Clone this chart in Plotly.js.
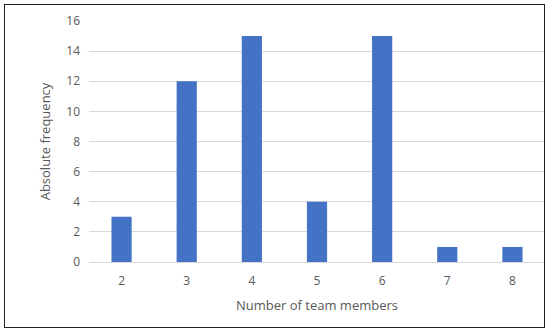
<!DOCTYPE html>
<html>
<head>
<meta charset="utf-8">
<script src="https://cdn.plot.ly/plotly-3.0.1.min.js"></script>
<style>
  body { margin: 0; background: #fff; }
  #chart { position: absolute; left: 0; top: 0; width: 550px; height: 333px; }
  #frame { position: absolute; left: 4px; top: 4px; width: 539px; height: 322px;
           border: 1.5px solid #222; pointer-events: none; }
</style>
</head>
<body>
<div id="chart"></div>
<div id="frame"></div>
<script>
// team size vs how many teams had it
var teamSizes = ["2", "3", "4", "5", "6", "7", "8"];
var frequency = [3, 12, 15, 4, 15, 1, 1];

var axisFont = { family: "Open Sans, Lato, sans-serif", size: 12, color: "#595959" };
var titleFont = { family: "Open Sans, Lato, sans-serif", size: 13, color: "#595959" };

var data = [{
    x: teamSizes,
    y: frequency,
    type: "bar",
    marker: { color: "#4472c4" },
    hoverinfo: "x+y"
}];

var layout = {
    width: 550,
    height: 333,
    margin: { l: 89, r: 5, t: 21, b: 71 },
    paper_bgcolor: "#fff",
    plot_bgcolor: "#fff",
    bargap: 0.69,
    showlegend: false,
    font: axisFont,
    xaxis: {
        type: "category",
        showgrid: false,
        showline: true,
        linecolor: "#d9d9d9",
        ticks: "",
        ticklabelstandoff: 8,
        tickfont: axisFont,
        title: { text: "Number of team members", font: titleFont, standoff: 12 }
    },
    yaxis: {
        range: [0, 16],
        dtick: 2,
        gridcolor: "#d9d9d9",
        zeroline: false,
        ticks: "",
        ticklabelstandoff: 8,
        tickfont: axisFont,
        title: { text: "Absolute frequency", font: titleFont, standoff: 12 }
    }
};

Plotly.newPlot("chart", data, layout, { displayModeBar: false });
</script>
</body>
</html>
